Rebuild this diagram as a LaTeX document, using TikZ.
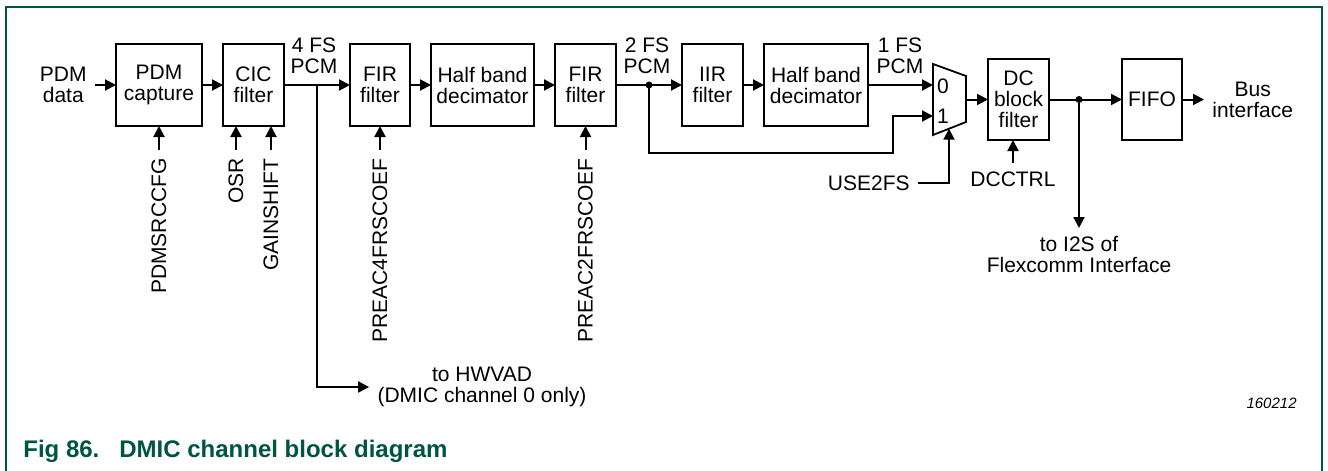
\documentclass[tikz,border=0pt]{standalone}
\usepackage{fontspec}
\setmainfont{Liberation Sans}
\usetikzlibrary{arrows.meta,positioning,calc}
\definecolor{nxpgreen}{RGB}{0,84,66}

\begin{document}
\begin{tikzpicture}[x=0.5pt, y=-0.5pt, >={Triangle[length=5.5pt,width=5.5pt]},
  font=\fontsize{10.5}{10.5}\selectfont, node distance=10.5pt,
  blk/.style={draw, line width=1.3pt, inner sep=0pt, outer sep=0pt, align=center, minimum height=41pt},
  lbl/.style={align=center, inner sep=4pt},
  ctl/.style={rotate=90, anchor=east, inner sep=4pt},
  dot/.style={circle, fill, inner sep=0pt, minimum size=3.5pt},
  wire/.style={line width=1pt},
  capt/.style={text=nxpgreen, font=\fontsize{12}{12}\selectfont\bfseries, anchor=base west, inner sep=0pt}]
\useasboundingbox (0,0) rectangle (1328,471);
\draw[nxpgreen, line width=0.8pt] (6,471) -- (6,7) -- (1322,7) -- (1322,471);
% ---------------- filter chain
\node[blk, minimum width=43pt] (pdmcap) at (159,85) {PDM\\capture};
\node[blk, minimum width=30.5pt, right=of pdmcap] (cic) {CIC\\filter};
\node[blk, minimum width=30pt, right=33pt of cic] (firA) {FIR\\filter};
\node[blk, minimum width=51.5pt, right=of firA] (hbA) {Half band\\decimator};
\node[blk, minimum width=30.5pt, right=of hbA] (firB) {FIR\\filter};
\node[blk, minimum width=30.5pt, right=33pt of firB] (iir) {IIR\\filter};
\node[blk, minimum width=52pt, right=of iir] (hbB) {Half band\\decimator};
\node[lbl, left=of pdmcap] (pdmin) {PDM\\data};
\node[lbl] (pcm4) at (314,56) {4 FS\\PCM};
\node[lbl] (pcm2) at (647,56) {2 FS\\PCM};
\node[lbl] (pcm1) at (900,56) {1 FS\\PCM};
% ---------------- mux, DC block, FIFO
\draw[wire, line width=0.9pt] (933,64) -- (966,76) -- (966,122) -- (933,135) -- cycle;
\coordinate (mux0) at (933,85);
\coordinate (mux1) at (933,116);
\coordinate (muxout) at (966,99.5);
\coordinate (muxsel) at (949,128.7);
\node[inner sep=0pt] (sel0) at (943,86) {0};
\node[inner sep=0pt] (sel1) at (943,116) {1};
\node[blk, minimum width=30.5pt, minimum height=40.5pt] (dcblk) at (1018.5,99.5) {DC\\block\\filter};
\node[blk, minimum width=30pt, minimum height=40.5pt, right=36.5pt of dcblk] (fifo) {FIFO};
\node[lbl, right=11pt of fifo] (bus) {Bus\\interface};
% ---------------- taps and outputs
\coordinate (tapA) at (317,85);
\node[dot] (tapB) at (649,85) {};
\node[dot] (tapC) at (1079,99.5) {};
\coordinate (fbturn) at (893,153);
\node[lbl] (hwvad) at (482,387) {to HWVAD\\(DMIC channel 0 only)};
\node[lbl, anchor=north] (i2s) at (1079,228) {to I2S of\\Flexcomm Interface};
% ---------------- register controls
\node[ctl] (pdmcfg) at ([yshift=-12pt]pdmcap.south) {PDMSRCCFG};
\node[ctl] (osr) at ([xshift=-8.75pt,yshift=-12pt]cic.south) {OSR};
\node[ctl] (gain) at ([xshift=8.75pt,yshift=-12pt]cic.south) {GAINSHIFT};
\node[ctl] (coefA) at ([yshift=-12pt]firA.south) {PREAC4FRSCOEF};
\node[ctl] (coefB) at ([yshift=-12pt]firB.south) {PREAC2FRSCOEF};
\node[lbl, anchor=north] (dcctrl) at ([xshift=-2.75pt,yshift=-11.5pt]dcblk.south) {DCCTRL};
\node[lbl, anchor=east] (use2fs) at (918,183) {USE2FS};
% ---------------- connectors
\draw[wire, ->] (pdmin) -- (pdmcap);
\draw[wire, ->] (pdmcap) -- (cic);
\draw[wire, ->] (cic) -- (firA);
\draw[wire, ->] (firA) -- (hbA);
\draw[wire, ->] (hbA) -- (firB);
\draw[wire, ->] (firB) -- (iir);
\draw[wire, ->] (iir) -- (hbB);
\draw[wire, ->] (hbB) -- (mux0);
\draw[wire, ->] (muxout) -- (dcblk);
\draw[wire, ->] (dcblk) -- (fifo);
\draw[wire, ->] (fifo) -- (bus);
\draw[wire, ->] (tapA) |- (hwvad);
\draw[wire, ->] (tapB.center) |- (fbturn) |- (mux1);
\draw[wire, ->] (tapC) -- (i2s);
\draw[wire, ->] (use2fs) -| (muxsel);
\draw[wire, ->] (pdmcfg) -- (pdmcap);
\draw[wire, ->] (osr) -- (osr |- cic.south);
\draw[wire, ->] (gain) -- (gain |- cic.south);
\draw[wire, ->] (coefA) -- (firA);
\draw[wire, ->] (coefB) -- (firB);
\draw[wire, ->] (dcctrl) -- (dcctrl |- dcblk.south);
% ---------------- caption
\node[anchor=east, inner sep=0pt, font=\itshape\fontsize{7.5}{7.5}\selectfont] (figid) at (1297,403) {160212};
\node[capt] (fignum) at (23,457) {Fig 86.};
\node[capt] (figtitle) at (119,457) {DMIC channel block diagram};
\end{tikzpicture}
\end{document}
